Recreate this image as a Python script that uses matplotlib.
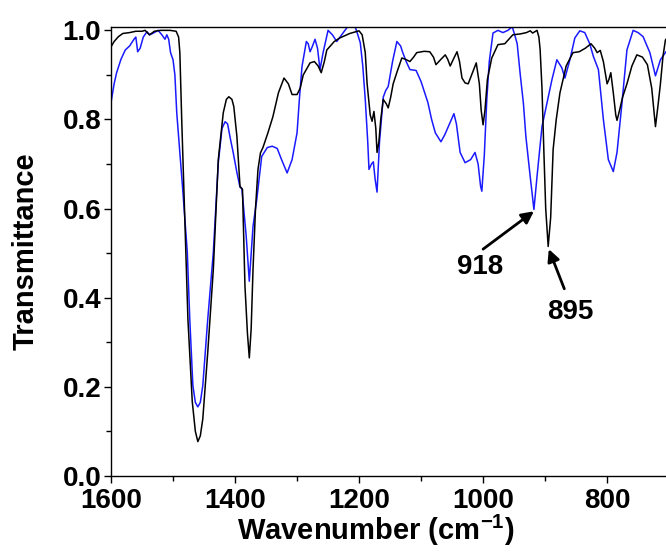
import matplotlib
matplotlib.use("Agg")
import matplotlib.pyplot as plt
from matplotlib import font_manager
from matplotlib.ticker import MultipleLocator, FormatStrFormatter

names = {f.name for f in font_manager.fontManager.ttflist}
base = 'Liberation Sans' if 'Liberation Sans' in names else 'DejaVu Sans'
plt.rcParams['font.family'] = base
plt.rcParams['font.weight'] = 'bold'
plt.rcParams['mathtext.fontset'] = 'custom'
plt.rcParams['mathtext.bf'] = base + ':bold'
plt.rcParams['mathtext.rm'] = base + ':bold'

# black spectrum (wavenumber, transmittance)
black_w = [1600, 1595, 1588, 1581, 1570, 1560, 1550, 1545, 1538, 1530, 1520, 1505,
           1495, 1491, 1489, 1486, 1481, 1476, 1469, 1464, 1460, 1456, 1452, 1444,
           1435, 1427, 1419, 1414, 1410, 1405, 1402, 1397, 1392, 1388, 1384, 1380,
           1377, 1374, 1371, 1367, 1363, 1359, 1355, 1347, 1339, 1330, 1321, 1314,
           1308, 1300, 1295, 1290, 1279, 1272, 1266, 1261, 1256, 1252, 1240, 1231,
           1215, 1200, 1195, 1190, 1187, 1182, 1179, 1176, 1173, 1171, 1168, 1165,
           1161, 1156, 1153, 1149, 1145, 1138, 1131, 1125, 1118, 1112, 1107, 1095,
           1086, 1080, 1076, 1068, 1061, 1057, 1053, 1048, 1042, 1038, 1034, 1029,
           1024, 1017, 1011, 1006, 1003, 1000, 997, 993, 986, 976, 965, 952, 940,
           930, 924, 920, 913, 910, 908, 905, 902, 899, 895, 891, 887, 882, 876,
           866, 855, 845, 835, 826, 820, 816, 811, 806, 800, 797, 794, 790, 786,
           784, 780, 775, 768, 760, 752, 743, 735, 728, 722, 718, 714, 710, 706, 700]
black_t = [0.963, 0.975, 0.986, 0.993, 0.995, 0.998, 0.998, 1.0, 0.99, 0.998, 1.0, 1.0,
           0.998, 0.985, 0.95, 0.80, 0.576, 0.352, 0.167, 0.10, 0.077, 0.09, 0.128, 0.278,
           0.464, 0.71, 0.815, 0.845, 0.851, 0.845, 0.829, 0.762, 0.65, 0.643, 0.426, 0.32,
           0.265, 0.33, 0.464, 0.60, 0.688, 0.725, 0.737, 0.77, 0.806, 0.86, 0.893, 0.88,
           0.856, 0.856, 0.87, 0.90, 0.927, 0.93, 0.92, 0.905, 0.93, 0.956, 0.975, 0.983,
           0.993, 0.999, 0.99, 0.95, 0.88, 0.81, 0.796, 0.818, 0.78, 0.726, 0.75, 0.80,
           0.845, 0.835, 0.826, 0.85, 0.88, 0.91, 0.938, 0.935, 0.93, 0.94, 0.95, 0.953,
           0.952, 0.94, 0.923, 0.935, 0.945, 0.935, 0.92, 0.935, 0.952, 0.93, 0.893, 0.882,
           0.88, 0.905, 0.927, 0.88, 0.82, 0.788, 0.82, 0.89, 0.938, 0.968, 0.97, 0.99, 0.992,
           0.995, 0.999, 0.994, 1.0, 0.985, 0.957, 0.87, 0.73, 0.60, 0.515, 0.58, 0.733, 0.80, 0.86,
           0.92, 0.95, 0.952, 0.96, 0.97, 0.96, 0.95, 0.955, 0.93, 0.88, 0.89, 0.905, 0.86, 0.81,
           0.798, 0.82, 0.85, 0.88, 0.92, 0.945, 0.94, 0.923, 0.87, 0.784, 0.83, 0.88, 0.94, 0.978, 0.99]

# blue spectrum
blue_w = [1600, 1595, 1591, 1584, 1577, 1570, 1563, 1560, 1557, 1553, 1548, 1542,
          1538, 1533, 1524, 1518, 1513, 1510, 1507, 1504, 1500, 1497, 1494, 1489,
          1484, 1477, 1473, 1468, 1464, 1460, 1456, 1452, 1444, 1435, 1427, 1421,
          1416, 1412, 1408, 1403, 1397, 1392, 1389, 1386, 1382, 1377, 1374, 1371,
          1365, 1357, 1348, 1340, 1332, 1325, 1316, 1308, 1300, 1296, 1292, 1285,
          1282, 1279, 1275, 1271, 1267, 1263, 1258, 1250, 1243, 1236, 1228, 1219,
          1212, 1206, 1202, 1198, 1194, 1190, 1186, 1184, 1180, 1177, 1174, 1171,
          1167, 1161, 1157, 1153, 1146, 1139, 1133, 1130, 1124, 1118, 1108, 1100,
          1089, 1083, 1077, 1068, 1062, 1056, 1047, 1043, 1037, 1029, 1020, 1013,
          1008, 1004, 1002, 998, 994, 990, 984, 976, 968, 960, 953, 949, 945, 940,
          935, 931, 924, 918, 913, 905, 897, 889, 881, 873, 868, 860, 852, 844, 836,
          828, 822, 814, 806, 798, 790, 784, 776, 768, 758, 750, 742, 731, 722, 714, 705, 700]
blue_t = [0.838, 0.88, 0.905, 0.935, 0.956, 0.965, 0.98, 0.985, 0.952, 0.96, 0.985, 0.997,
          0.99, 0.993, 1.0, 0.99, 0.98, 0.99, 0.98, 0.95, 0.934, 0.90, 0.815, 0.726,
          0.636, 0.502, 0.352, 0.203, 0.165, 0.155, 0.165, 0.203, 0.352, 0.502, 0.703, 0.78,
          0.795, 0.79, 0.76, 0.726, 0.681, 0.648, 0.645, 0.60, 0.538, 0.437, 0.50, 0.56,
          0.62, 0.717, 0.737, 0.74, 0.735, 0.71, 0.68, 0.71, 0.77, 0.85, 0.919, 0.975,
          0.97, 0.952, 0.965, 0.98, 0.96, 0.912, 0.95, 1.0, 0.99, 0.975, 0.99, 1.007,
          1.01, 1.007, 0.99, 0.972, 0.92, 0.845, 0.75, 0.688, 0.70, 0.705, 0.665, 0.637,
          0.75, 0.85, 0.865, 0.874, 0.93, 0.975, 0.965, 0.952, 0.93, 0.912, 0.91, 0.885,
          0.838, 0.80, 0.77, 0.75, 0.765, 0.784, 0.813, 0.79, 0.726, 0.703, 0.71, 0.726,
          0.70, 0.65, 0.639, 0.72, 0.845, 0.93, 0.994, 1.0, 0.995, 1.0, 1.008, 0.99, 0.97, 0.90,
          0.837, 0.762, 0.672, 0.598, 0.672, 0.784, 0.837, 0.889, 0.934, 0.916, 0.893, 0.934, 0.983, 0.999, 0.995,
          0.97, 0.941, 0.912, 0.80, 0.71, 0.683, 0.726, 0.837, 0.956, 1.0, 0.995, 0.986, 0.95, 0.898, 0.934, 0.952, 0.96]

fig = plt.figure(figsize=(6.66, 5.56), dpi=100)
ax = fig.add_axes([0.1667, 0.144, 0.8333, 0.807])

ax.plot(black_w, black_t, color='black', lw=1.1, zorder=3)
ax.plot(blue_w, blue_t, color='#1a1aff', lw=1.1, zorder=2)

ax.set_xlim(1600, 705)
ax.set_ylim(0, 1.007)
ax.xaxis.set_major_locator(MultipleLocator(200))
ax.xaxis.set_minor_locator(MultipleLocator(100))
ax.yaxis.set_major_locator(MultipleLocator(0.2))
ax.yaxis.set_minor_locator(MultipleLocator(0.1))
ax.yaxis.set_major_formatter(FormatStrFormatter('%.1f'))
ax.tick_params(which='major', direction='out', length=5, width=1, pad=2, labelsize=20)
ax.tick_params(which='minor', direction='out', length=3.5, width=1)
ax.tick_params(axis='x', pad=3.5)
ax.spines['right'].set_visible(False)
for s in ['left', 'bottom', 'top']:
    ax.spines[s].set_linewidth(1.0)

ax.set_ylabel('Transmittance', fontsize=21, fontweight='bold')
ax.set_xlabel('Wavenumber (cm$^{\\mathbf{-1}}$)', fontsize=21, fontweight='bold')
ax.yaxis.set_label_coords(-0.128, 0.5)
ax.xaxis.set_label_coords(0.477, -0.082)

arrow = dict(arrowstyle='-|>', color='black', lw=2, mutation_scale=18, shrinkA=0, shrinkB=0)
ax.annotate('', xy=(918, 0.594), xytext=(1000, 0.509), arrowprops=arrow)
ax.annotate('', xy=(894, 0.509), xytext=(869, 0.42), arrowprops=arrow)
ax.text(1005, 0.469, '918', fontsize=20, fontweight='bold', ha='center', va='center')
ax.text(860, 0.368, '895', fontsize=20, fontweight='bold', ha='center', va='center')

fig.savefig('out.png', dpi=100)
